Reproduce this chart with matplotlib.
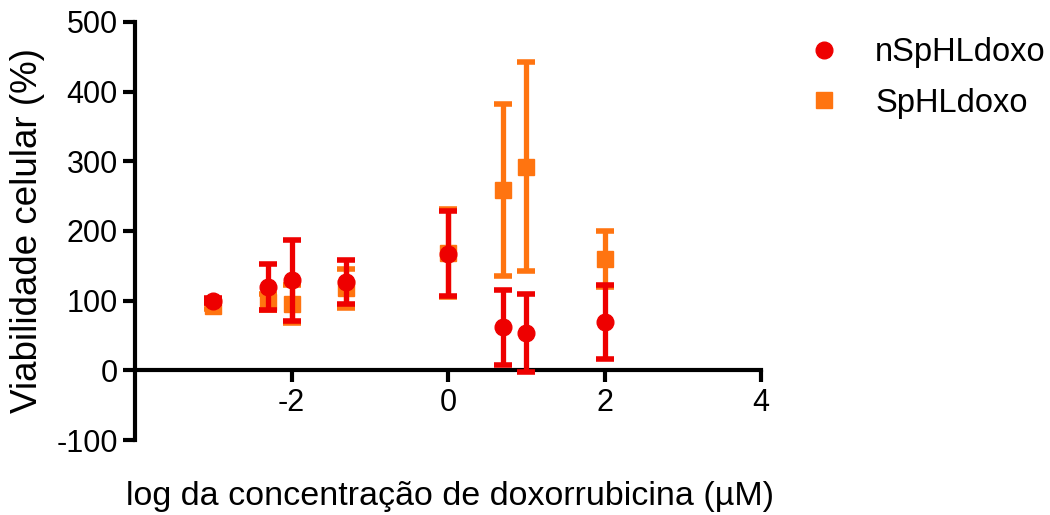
import numpy as np
import matplotlib.pyplot as plt

plt.rcParams['font.family'] = ['Liberation Sans', 'DejaVu Sans']
plt.rcParams['axes.unicode_minus'] = False

# log10 da concentração (µM)
log_conc = np.log10([0.001, 0.005, 0.01, 0.05, 1, 5, 10, 100])

# nSpHLdoxo: média e desvio
nsphl_media = [100, 120, 129, 127, 167, 62, 53, 69]
nsphl_dp = [4, 33, 58, 32, 61, 54, 56, 53]

# SpHLdoxo: média e desvio
sphl_media = [92, 98, 95, 118, 168, 259, 292, 160]
sphl_dp = [4, 12, 27, 28, 63, 123, 150, 40]

cor_vermelho = '#ee0000'
cor_laranja = '#ff7410'

fig = plt.figure(figsize=(10.5, 5.15), dpi=100)
ax = fig.add_axes([135 / 1050, 75 / 515, (761 - 135) / 1050, (493 - 75) / 515])

ax.errorbar(log_conc, sphl_media, yerr=sphl_dp, fmt='s', color=cor_laranja,
            markersize=12, elinewidth=3.8, capsize=6.5, capthick=4,
            label='SpHLdoxo', zorder=2)
ax.errorbar(log_conc, nsphl_media, yerr=nsphl_dp, fmt='o', color=cor_vermelho,
            markersize=12, elinewidth=3.8, capsize=6.5, capthick=4,
            label='nSpHLdoxo', zorder=3)

ax.set_xlim(-4, 4)
ax.set_ylim(-100, 500)
ax.set_xticks([-2, 0, 2, 4])
ax.set_yticks(np.arange(-100, 501, 100))

# eixos no estilo Prism: x cruza em y=0
ax.spines['top'].set_visible(False)
ax.spines['right'].set_visible(False)
ax.spines['bottom'].set_position(('data', 0))
ax.spines['left'].set_linewidth(3)
ax.spines['bottom'].set_linewidth(3)
ax.tick_params(axis='both', direction='out', length=8.5, width=3,
               labelsize=22, pad=4)

ax.set_ylabel('Viabilidade celular (%)', fontsize=26.5, labelpad=8)
fig.text(450 / 1050, 1 - 496 / 515, 'log da concentração de doxorrubicina (µM)',
         ha='center', va='center', fontsize=24.5)

# legenda à direita, sem barras de erro
h, l = ax.get_legend_handles_labels()
handles = [h[1][0], h[0][0]]
labels = [l[1], l[0]]
fig.legend(handles, labels, loc='upper left', bbox_to_anchor=(800 / 1050, 1 - 37 / 515),
           frameon=False, fontsize=23.5, handletextpad=0.8, labelspacing=0.6,
           handlelength=1.5, borderaxespad=0, borderpad=0)

fig.savefig('out.png', dpi=100)
